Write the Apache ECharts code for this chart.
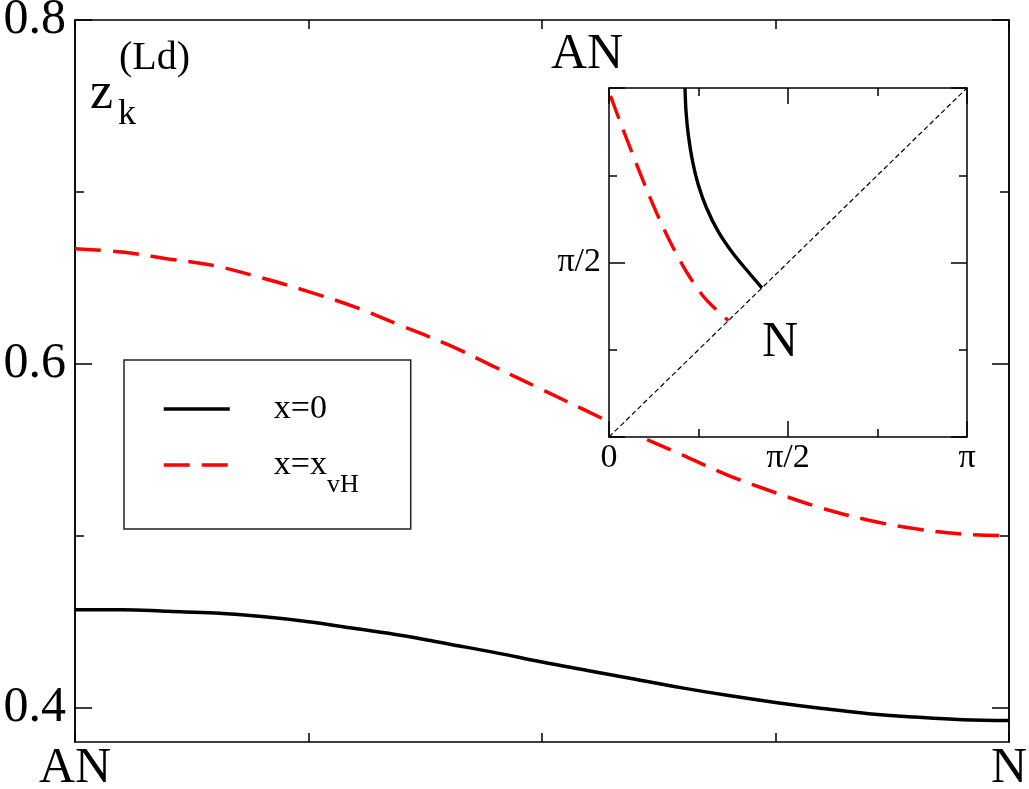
<!DOCTYPE html>
<html>
<head>
<meta charset="utf-8">
<script src="https://cdn.jsdelivr.net/npm/echarts@6/dist/echarts.min.js"></script>
<style>
  html, body { margin: 0; padding: 0; background: #fff; }
  #chart { width: 1029px; height: 789px; }
</style>
</head>
<body>
<div id="chart"></div>
<script>
// path from AN to N (0..1)
const pathT = [0, 0.05, 0.1, 0.15, 0.2, 0.25, 0.3, 0.35, 0.4, 0.45, 0.5,
  0.55, 0.6, 0.65, 0.7, 0.75, 0.8, 0.85, 0.9, 0.95, 1];
const zBlack = [0.457, 0.457, 0.456, 0.455, 0.453, 0.450, 0.446, 0.442, 0.437, 0.432, 0.4265,
  0.4215, 0.4165, 0.4115, 0.407, 0.403, 0.3995, 0.3965, 0.3945, 0.393, 0.3925];
const zRed = [0.667, 0.665, 0.661, 0.657, 0.650, 0.642, 0.633, 0.622, 0.611, 0.598, 0.585,
  0.572, 0.559, 0.547, 0.535, 0.525, 0.516, 0.509, 0.504, 0.501, 0.500];

// inset: k-path in the (kx, ky) plane, radians
const insetBlackX = [0.667, 0.676, 0.696, 0.734, 0.784, 0.857, 0.959, 1.077, 1.208, 1.342];
const insetBlackY = [3.1416, 2.928, 2.719, 2.478, 2.268, 2.059, 1.848, 1.668, 1.503, 1.342];
const insetRedX = [0.013, 0.097, 0.211, 0.325, 0.430, 0.553, 0.693, 0.851, 1.047];
const insetRedY = [3.070, 2.839, 2.535, 2.242, 1.989, 1.724, 1.465, 1.238, 1.047];
const diagX = [0, Math.PI];

const yMajor = [0.4, 0.6, 0.8];
const yMinor = [0.5, 0.7];
const pathLabels = ['AN', 'N'];
const seriesNames = ['x=0', 'x=x_vH'];

const FONT = '"Liberation Serif", "Times New Roman", serif';
const AX = { color: '#000', width: 1.5 };

const zip = (a, b) => a.map((v, i) => [v, b[i]]);
const near = (a, b) => Math.abs(a - b) < 1e-6;
const piLabel = (v) => near(v, 0) ? '0' : near(v, Math.PI / 2) ? 'π/2' : near(v, Math.PI) ? 'π' : '';

const chart = echarts.init(document.getElementById('chart'));

const mainY = (pos, ticks, len, labels) => ({
  type: 'value', gridIndex: 0, position: pos, min: 0.38, max: 0.8,
  axisLine: { show: true, onZero: false, lineStyle: AX },
  axisTick: { show: true, inside: true, length: len, customValues: ticks, lineStyle: AX },
  axisLabel: labels ? {
    show: true, customValues: yMajor, margin: 9, fontSize: 50, fontFamily: FONT, color: '#000',
    formatter: (v) => v.toFixed(1)
  } : { show: false },
  splitLine: { show: false }
});

const mainX = (pos, labels) => ({
  type: 'value', gridIndex: 0, position: pos, min: 0, max: 1, interval: 0.25,
  axisLine: { show: true, onZero: false, lineStyle: AX },
  axisTick: { show: true, inside: true, length: 9, lineStyle: AX },
  axisLabel: labels ? {
    show: true, margin: 2, fontSize: 50, fontFamily: FONT, color: '#000',
    formatter: (v) => near(v, 0) ? pathLabels[0] : near(v, 1) ? pathLabels[1] : ''
  } : { show: false },
  splitLine: { show: false }
});

const insetAxis = (pos, fmt) => ({
  type: 'value', gridIndex: 1, position: pos, min: 0, max: Math.PI, interval: Math.PI / 2, z: 6,
  axisLine: { show: true, onZero: false, lineStyle: AX },
  axisTick: { show: true, inside: true, length: 16, lineStyle: AX },
  minorTick: { show: true, splitNumber: 2, length: 8, lineStyle: AX },
  axisLabel: fmt ? {
    show: true, margin: pos === 'left' ? 8 : 4, fontSize: 34, fontFamily: FONT, color: '#000', formatter: fmt
  } : { show: false },
  splitLine: { show: false }
});

chart.setOption({
  animation: false,
  backgroundColor: '#fff',
  grid: [
    { left: 75, right: 20, top: 20, bottom: 47, outerBoundsMode: 'none' },
    { left: 609, top: 88, width: 358, height: 349, outerBoundsMode: 'none',
      show: true, backgroundColor: '#fff', borderWidth: 0, z: 4 }
  ],
  legend: {
    data: seriesNames,
    orient: 'vertical',
    left: 124, top: 360,
    padding: [32, 52, 24, 38],
    itemGap: 22,
    itemWidth: 66, itemHeight: 34,
    icon: 'inherit',
    selectedMode: false,
    borderColor: '#222', borderWidth: 1.5, backgroundColor: '#fff',
    lineStyle: { width: 3.5 },
    itemStyle: { opacity: 0 },
    formatter: (name) => name === 'x=x_vH' ? '{a|x=x}{s|vH}' : name,
    textStyle: {
      fontSize: 34, lineHeight: 34, fontFamily: FONT, color: '#000', padding: [0, 0, 0, 39],
      rich: {
        a: { fontSize: 34, lineHeight: 34, fontFamily: FONT, color: '#000', verticalAlign: 'top' },
        s: { fontSize: 26, lineHeight: 26, fontFamily: FONT, color: '#000', verticalAlign: 'top', padding: [24, 0, 7, 0] }
      }
    }
  },
  xAxis: [
    mainX('bottom', true),
    mainX('top', false),
    insetAxis('bottom', piLabel),
    insetAxis('top', null)
  ],
  yAxis: [
    mainY('left', yMajor, 17, true),
    mainY('left', yMinor, 9, false),
    mainY('right', yMajor, 17, false),
    mainY('right', yMinor, 9, false),
    insetAxis('left', (v) => near(v, Math.PI / 2) ? 'π/2' : ''),
    insetAxis('right', null)
  ],
  series: [
    {
      name: seriesNames[0], type: 'line', xAxisIndex: 0, yAxisIndex: 0, z: 2,
      data: zip(pathT, zBlack), symbol: 'none', smooth: 0.4,
      lineStyle: { color: '#000', width: 3.5 }, itemStyle: { color: '#000' }
    },
    {
      name: seriesNames[1], type: 'line', xAxisIndex: 0, yAxisIndex: 0, z: 2,
      data: zip(pathT, zRed), symbol: 'none', smooth: 0.4,
      lineStyle: { color: '#f00', width: 3.5, type: [26, 12] }, itemStyle: { color: '#f00' }
    },
    {
      name: 'diag', type: 'line', xAxisIndex: 2, yAxisIndex: 4, z: 5,
      data: zip(diagX, diagX), symbol: 'none',
      lineStyle: { color: '#000', width: 1.2, type: [5, 3] }
    },
    {
      name: 'insetBlack', type: 'line', xAxisIndex: 2, yAxisIndex: 4, z: 5,
      data: zip(insetBlackX, insetBlackY), symbol: 'none', smooth: 0.3,
      lineStyle: { color: '#000', width: 3.4 }
    },
    {
      name: 'insetRed', type: 'line', xAxisIndex: 2, yAxisIndex: 4, z: 5,
      data: zip(insetRedX, insetRedY), symbol: 'none', smooth: 0.3,
      lineStyle: { color: '#f00', width: 3.4, type: [24, 12] }
    }
  ],
  graphic: [
    { type: 'text', x: 90, y: 68, z: 10, style: { text: 'z', fontSize: 52, fontFamily: FONT, fill: '#000', verticalAlign: 'top' } },
    { type: 'text', x: 118, y: 97, z: 10, style: { text: 'k', fontSize: 36, fontFamily: FONT, fill: '#000', verticalAlign: 'top' } },
    { type: 'text', x: 119, y: 38, z: 10, style: { text: '(Ld)', fontSize: 40, fontFamily: FONT, fill: '#000', verticalAlign: 'top' } },
    { type: 'text', x: 551, y: 30, z: 10, style: { text: 'AN', fontSize: 50, fontFamily: FONT, fill: '#000', verticalAlign: 'top' } },
    { type: 'text', x: 762, y: 318, z: 10, style: { text: 'N', fontSize: 50, fontFamily: FONT, fill: '#000', verticalAlign: 'top' } }
  ]
});
</script>
</body>
</html>
